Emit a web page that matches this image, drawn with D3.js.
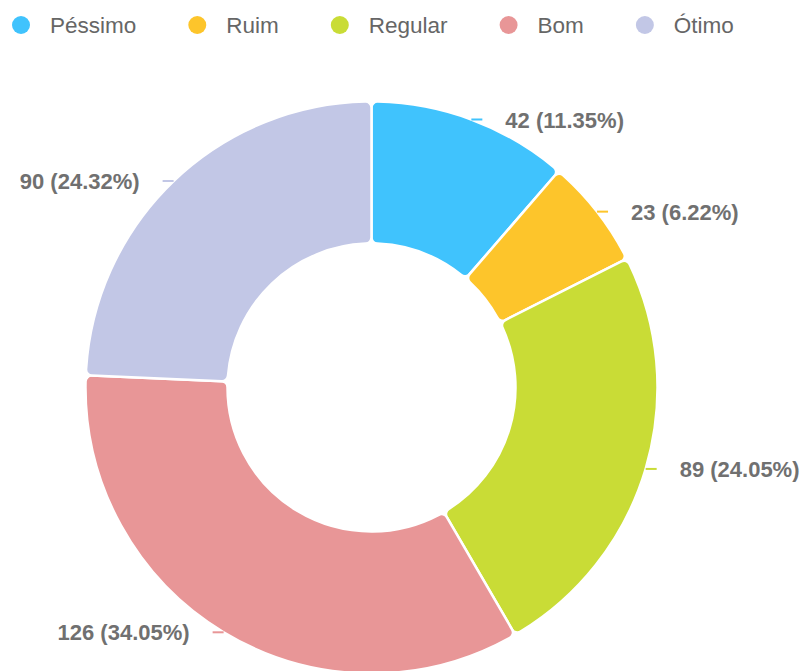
<!DOCTYPE html>
<html lang="pt">
<head>
  <meta charset="UTF-8">
  <title>Avaliação</title>
  <script src="https://d3js.org/d3.v7.min.js"></script>
  <style>
    body{ margin:0; background:#fff; }
    text{ font-family: Arial, "Liberation Sans", Helvetica, sans-serif; }
    .legend text{ font-size:22.5px; fill:#666; }
    .label{ font-size:22px; font-weight:bold; fill:#707070; }
  </style>
</head>
<body>
  <svg id="chart"></svg>
  <script>
    const categories = ["Péssimo", "Ruim", "Regular", "Bom", "Ótimo"];
    const values = [42, 23, 89, 126, 90];
    const percents = ["11.35%", "6.22%", "24.05%", "34.05%", "24.32%"];
    const colors = ["#40c3fd", "#fdc52b", "#c9dc36", "#e89697", "#c2c7e6"];

    const width = 806, height = 671;
    const cx = 371.5, cy = 387.5;
    const outerR = 286, innerR = 144;

    const svg = d3.select("#chart")
      .attr("width", width)
      .attr("height", height);

    const color = d3.scaleOrdinal().domain(categories).range(colors);

    // legend
    const legend = svg.append("g").attr("class", "legend");
    let lx = 21;
    categories.forEach(c => {
      const item = legend.append("g").attr("transform", "translate(" + lx + ",25)");
      item.append("circle").attr("r", 9).attr("fill", color(c));
      const t = item.append("text").attr("x", 29).attr("y", 8).text(c);
      lx += 29 + t.node().getComputedTextLength() + 61;
    });

    const data = categories.map((c, i) => ({ key: c, value: values[i], pct: percents[i] }));

    const pie = d3.pie().sort(null).value(d => d.value);
    const arc = d3.arc().innerRadius(innerR).outerRadius(outerR).cornerRadius(6);

    const g = svg.append("g").attr("transform", "translate(" + cx + "," + cy + ")");
    const arcs = pie(data);

    g.selectAll("path.slice")
      .data(arcs)
      .enter().append("path")
      .attr("class", "slice")
      .attr("d", arc)
      .attr("fill", d => color(d.data.key))
      .attr("stroke", "#fff")
      .attr("stroke-width", 2.5);

    // small label ticks + text
    const edge = d => {
      const a = (d.startAngle + d.endAngle) / 2;
      return [Math.sin(a) * outerR, -Math.cos(a) * outerR];
    };
    const side = d => ((d.startAngle + d.endAngle) / 2 < Math.PI ? 1 : -1);

    g.selectAll("line.tick")
      .data(arcs)
      .enter().append("line")
      .attr("class", "tick")
      .attr("x1", d => edge(d)[0])
      .attr("y1", d => edge(d)[1])
      .attr("x2", d => edge(d)[0] + side(d) * 11)
      .attr("y2", d => edge(d)[1])
      .attr("stroke", d => color(d.data.key))
      .attr("stroke-width", 2);

    g.selectAll("text.label")
      .data(arcs)
      .enter().append("text")
      .attr("class", "label")
      .attr("x", d => edge(d)[0] + side(d) * 34)
      .attr("y", d => edge(d)[1] + 8)
      .attr("text-anchor", d => side(d) > 0 ? "start" : "end")
      .text(d => d.data.value + " (" + d.data.pct + ")");
  </script>
</body>
</html>
